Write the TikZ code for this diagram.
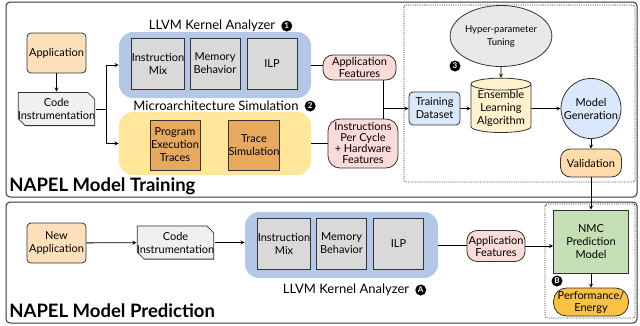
\documentclass[tikz,border=0pt]{standalone}
\usepackage{fontspec}
\setmainfont{Lato}
\usetikzlibrary{arrows, shapes.geometric, positioning}

\definecolor{appbg}{HTML}{FCE0BA}
\definecolor{llvmbg}{HTML}{B4C7E7}
\definecolor{featbg}{HTML}{D9D9D9}
\definecolor{simbg}{HTML}{FFE699}
\definecolor{tracebg}{HTML}{E6A95E}
\definecolor{pinkbg}{HTML}{FADBD8}
\definecolor{databg}{HTML}{DAE8FC}
\definecolor{ensbg}{HTML}{FFF2CC}
\definecolor{hypbg}{HTML}{E8E8E8}
\definecolor{codebg}{HTML}{F0F0F0}
\definecolor{valbg}{HTML}{FFDCAA}
\definecolor{nmcbg}{HTML}{C5E0B4}
\definecolor{perfbg}{HTML}{F8C243}
\definecolor{edgegray}{HTML}{333333}

\begin{document}
\begin{tikzpicture}[x=1pt, y=-1pt, > = stealth, line width=0.8pt,
  font=\fontsize{11}{13}\selectfont,
  box/.style={draw=edgegray, rounded corners=4pt, align=center, inner sep=0pt},
  appnode/.style={box, fill=appbg, minimum width=59pt, minimum height=40pt},
  codenode/.style={rectangle, align=center, inner sep=0pt, minimum width=73pt, minimum height=34pt,
    path picture={\draw[draw=edgegray, fill=codebg]
      ([shift={(0.4pt,-0.4pt)}]path picture bounding box.north west)
      -- ([shift={(-7.4pt,-0.4pt)}]path picture bounding box.north east)
      -- ([shift={(-0.4pt,-7.4pt)}]path picture bounding box.north east)
      -- ([shift={(-0.4pt,0.4pt)}]path picture bounding box.south east)
      -- ([shift={(7.4pt,0.4pt)}]path picture bounding box.south west)
      -- ([shift={(0.4pt,7.4pt)}]path picture bounding box.south west) -- cycle;}},
  groupbox/.style={rounded corners=14pt, minimum height=66pt},
  featbox/.style={draw=edgegray, fill=featbg, align=center, inner sep=0pt,
    minimum width=50pt, minimum height=51pt},
  tracebox/.style={featbox, fill=tracebg, minimum height=50pt},
  pill/.style={draw=edgegray, fill=pinkbg, rounded corners=10pt, align=center, inner sep=0pt},
  databox/.style={box, fill=databg, minimum width=51pt, minimum height=33pt},
  ensnode/.style={cylinder, shape border rotate=90, aspect=0.25, draw=edgegray, fill=ensbg,
    align=center, inner sep=0pt, minimum width=60pt, minimum height=54pt},
  hypnode/.style={ellipse, draw=edgegray, fill=hypbg, align=center, inner sep=0pt,
    minimum width=70pt, minimum height=61pt, font=\fontsize{9.5}{13}\selectfont},
  gennode/.style={circle, draw=edgegray, fill=databg, align=center, inner sep=0pt,
    minimum size=60pt},
  valnode/.style={pill, fill=valbg, minimum width=61pt, minimum height=28pt},
  nmcnode/.style={draw=edgegray, fill=nmcbg, align=center, inner sep=0pt,
    minimum width=75pt, minimum height=63pt},
  perfnode/.style={pill, fill=perfbg, rounded corners=13pt, minimum width=75pt, minimum height=28pt,
    font=\fontsize{11}{12}\selectfont},
  badge/.style={circle, fill=black, text=white, inner sep=0pt, minimum size=11pt,
    font=\fontsize{8}{8}\selectfont\bfseries},
  grouplabel/.style={font=\fontsize{13}{15}\selectfont},
  title/.style={anchor=west, inner sep=0pt, font=\fontsize{18.5}{22}\selectfont\bfseries},
  frame/.style={draw=edgegray, line width=1pt, rounded corners=4pt},
  dotframe/.style={draw=edgegray, densely dotted, line width=0.8pt, rounded corners=2pt}]

\useasboundingbox (0,0) rectangle (640,325);

% frames
\draw[frame] (6,2) rectangle (637,197);
\draw[frame] (6,202) rectangle (637,323);
\draw[dotframe] (404,5) rectangle (635,182);
\draw[dotframe] (545,204) rectangle (635,318);

\node[title] (traintitle) at (9,186) {NAPEL Model Training};
\node[title] (predtitle) at (9,311) {NAPEL Model Prediction};

% training
\node[appnode] (app) at (56.5,53) {Application};
\node[codenode] (code) at (56.5,109) {Code\\Instrumentation};

\node[groupbox, fill=llvmbg, minimum width=192pt] (llvm) at (215,65) {};
\node[featbox] (mix) at (158,63.5) {Instruction\\Mix};
\node[featbox] (mem) at (215,63.5) {Memory\\Behavior};
\node[featbox] (ilp) at (272,63.5) {ILP};
\node[grouplabel] (llvmlbl) at (212,26) {LLVM Kernel Analyzer};
\node[badge] (one) [right=2pt of llvmlbl] {1};

\node[groupbox, fill=simbg, minimum width=192pt, minimum height=63pt] (sim) at (215,143.5) {};
\node[tracebox] (traces) at (175,145) {Program\\Execution\\Traces};
\node[tracebox] (tsim) at (254,145.5) {Trace\\Simulation};
\node[grouplabel] (simlbl) at (216,106) {Microarchitecture Simulation};
\node[badge] (two) [right=2pt of simlbl] {2};

\node[pill, minimum width=73pt, minimum height=25pt, font=\fontsize{11}{12}\selectfont] (feat)
  at (359.5,67.5) {Application\\Features};
\node[pill, rounded corners=12pt, minimum width=70pt, minimum height=49pt,
  font=\fontsize{11}{11}\selectfont] (ipc) at (363,143.5)
  {Instructions\\Per Cycle\\+ Hardware\\Features};

\coordinate (fork) at (106,109);
\coordinate (join) at (383,108.5);

\node[databox] (data) at (434.5,108.5) {Training\\Dataset};
\node[ensnode] (ens) at (501,108.5) {Ensemble\\Learning\\Algorithm};
\node[hypnode] (hyp) at (501,36) {Hyper-parameter\\Tuning};
\node[badge] (three) at (455,66) {3};
\node[gennode] (gen) at (591,108.5) {Model\\Generation};
\node[valnode] (valid) at (591,163) {Validation};

% prediction
\node[appnode] (newapp) at (56.5,243) {New\\Application};
\node[codenode] (code2) at (175.5,242.5) {Code\\Instrumentation};

\node[groupbox, fill=llvmbg, minimum width=193pt] (llvm2) at (341.5,245) {};
\node[featbox] (mix2) at (284,243.5) {Instruction\\Mix};
\node[featbox] (mem2) at (341.5,243.5) {Memory\\Behavior};
\node[featbox] (ilp2) at (398.5,243.5) {ILP};
\node[grouplabel] (llvmlbl2) at (346,290) {LLVM Kernel Analyzer};
\node[badge] (bA) [right=2pt of llvmlbl2] {A};

\node[pill, minimum width=58pt, minimum height=31pt, font=\fontsize{11}{12}\selectfont] (feat2)
  at (496,246) {Application\\Features};
\node[nmcnode] (nmc) at (591,241.5) {NMC\\Prediction\\Model};
\node[badge] (bB) at (557,281) {B};
\node[perfnode] (perf) at (591,302) {Performance/\\Energy};

% connectors
\path[->] (app) edge (code);
\draw (code.east) -- (fork);
\draw[->] (fork) |- (llvm.west);
\draw[->] (fork) |- (sim.west);
\draw (llvm.east) -- (llvm.east -| feat.west);
\draw (sim.east) -- (ipc.west);
\draw (feat.south -| join) -- (ipc.north -| join);
\draw[->] (join) -- (data.west);
\path[->] (data) edge (ens)
          (hyp) edge (ens)
          (ens) edge (gen)
          (gen) edge (valid)
          (valid) edge (nmc);

\path[->] (newapp) edge (code2);
\draw[->] (code2.east) -- (code2.east -| llvm2.west);
\draw (llvm2.east) -- (llvm2.east -| feat2.west);
\draw[->] (feat2.east) -- (feat2.east -| nmc.west);
\path[->] (nmc) edge (perf);

\end{tikzpicture}
\end{document}
